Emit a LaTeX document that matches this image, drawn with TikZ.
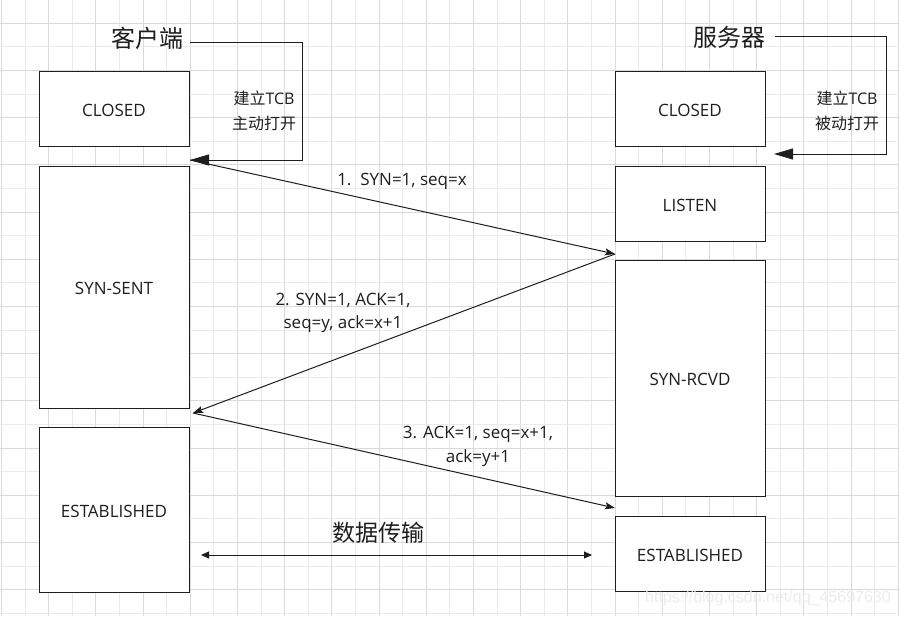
\documentclass[tikz,border=0pt]{standalone}
\usepackage{fontspec}
\setmainfont{Open Sans}
\newfontfamily\cjk{Noto Sans CJK SC}
\newfontfamily\wmfont{Liberation Sans}
\usetikzlibrary{arrows.meta}
\definecolor{gdark}{HTML}{DADADA}
\definecolor{glight}{HTML}{EBEBEB}
\definecolor{ink}{HTML}{1E1E1E}
\tikzset{
  statebox/.style={draw=ink, line width=1pt, fill=white, inner sep=0pt, outer sep=0pt,
    minimum width=150pt, font=\fontsize{17}{20}\selectfont, text=ink,
    text height=15pt, text depth=0pt},
  titletext/.style={font=\cjk\fontsize{24}{28}\selectfont, text=ink, inner sep=0pt},
  msgtext/.style={font=\fontsize{17}{23}\selectfont, text=ink, align=center, inner sep=0pt},
  tcbtext/.style={font=\fontsize{16}{25}\selectfont, text=ink, align=center, inner sep=0pt},
  conn/.style={draw=ink, line width=1pt},
  bigtip/.style={conn, -{Triangle[length=19pt,width=11pt]}},
  smalltip/.style={conn, -{Stealth[length=10pt,width=7pt,inset=2pt]}},
  bothtip/.style={conn, {Triangle[length=8pt,width=7pt]}-{Triangle[length=8pt,width=7pt]}}
}
\begin{document}
\begin{tikzpicture}[x=1pt,y=-1pt]
\useasboundingbox (0,0) rectangle (899,616);
\fill[white] (0,0) rectangle (899,616);
% grid
\foreach \k in {1,3,...,37} { \draw[glight, line width=1pt] ({1.4+23.6*\k},0) -- ({1.4+23.6*\k},616); }
\foreach \k in {0,2,...,38} { \draw[gdark, line width=1pt] ({1.4+23.6*\k},0) -- ({1.4+23.6*\k},616); }
\foreach \k in {2,4,...,26} { \draw[glight, line width=1pt] (0,{-0.3+23.6*\k}) -- (899,{-0.3+23.6*\k}); }
\foreach \k in {1,3,...,25} { \draw[gdark, line width=1pt] (0,{-0.3+23.6*\k}) -- (899,{-0.3+23.6*\k}); }

% client column
\node[statebox, minimum height=75pt] (c1) at (114,108.5) {CLOSED};
\node[statebox, minimum height=242pt] (c2) at (114,287) {SYN-SENT};
\node[statebox, minimum height=165pt] (c3) at (114,509.5) {ESTABLISHED};
% server column
\node[statebox, minimum height=75pt] (s1) at (690,108.5) {CLOSED};
\node[statebox, minimum height=75pt] (s2) at (690,203.5) {LISTEN};
\node[statebox, minimum height=236pt] (s3) at (690,378) {SYN-RCVD};
\node[statebox, minimum height=75pt] (s4) at (690,553.5) {ESTABLISHED};

% titles
\node[titletext] (t1) at (147,38) {客户端};
\node[titletext] (t2) at (729,37) {服务器};

% open loops
\coordinate (ca) at (190,42);
\coordinate (cb) at (302,160);
\coordinate (cp) at (190,160);
\coordinate (sa) at (775,36);
\coordinate (sb) at (886,154);
\coordinate (sp) at (774,154);
\draw[bigtip] (ca) -| (cb) -- (cp);
\draw[bigtip] (sa) -| (sb) -- (sp);
\node[tcbtext] (tc) at (264,110.5) {{\cjk 建立}TCB\\{\cjk 主动打开}};
\node[tcbtext] (ts) at (847,110.5) {{\cjk 建立}TCB\\{\cjk 被动打开}};

% handshake
\coordinate (h1) at (615,254);
\coordinate (h2) at (193,413);
\coordinate (h3) at (615,508);
\draw[smalltip] (cp) -- (h1);
\draw[smalltip] (h1) -- (h2);
\draw[smalltip] (h2) -- (h3);
\node[msgtext] (m1) at (402,181) {1.\ \ SYN=1, seq=x};
\node[msgtext] (m2) at (343,313) {2. SYN=1, ACK=1,\\seq=y, ack=x+1};
\node[msgtext, font=\fontsize{17}{24}\selectfont] (m3) at (478,446) {3. ACK=1, seq=x+1,\\ack=y+1};

% data transfer
\coordinate (d1) at (201,555);
\coordinate (d2) at (592,555);
\draw[bothtip] (d1) -- (d2);
\node[titletext, font=\cjk\fontsize{23}{27}\selectfont] (dt) at (378,533) {数据传输};

% watermark
\node[font=\wmfont\fontsize{16}{18}\selectfont, text=gray!15, inner sep=0pt] (wm) at (768,598) {https://blog.csdn.net/qq\_45697630};
\end{tikzpicture}
\end{document}
